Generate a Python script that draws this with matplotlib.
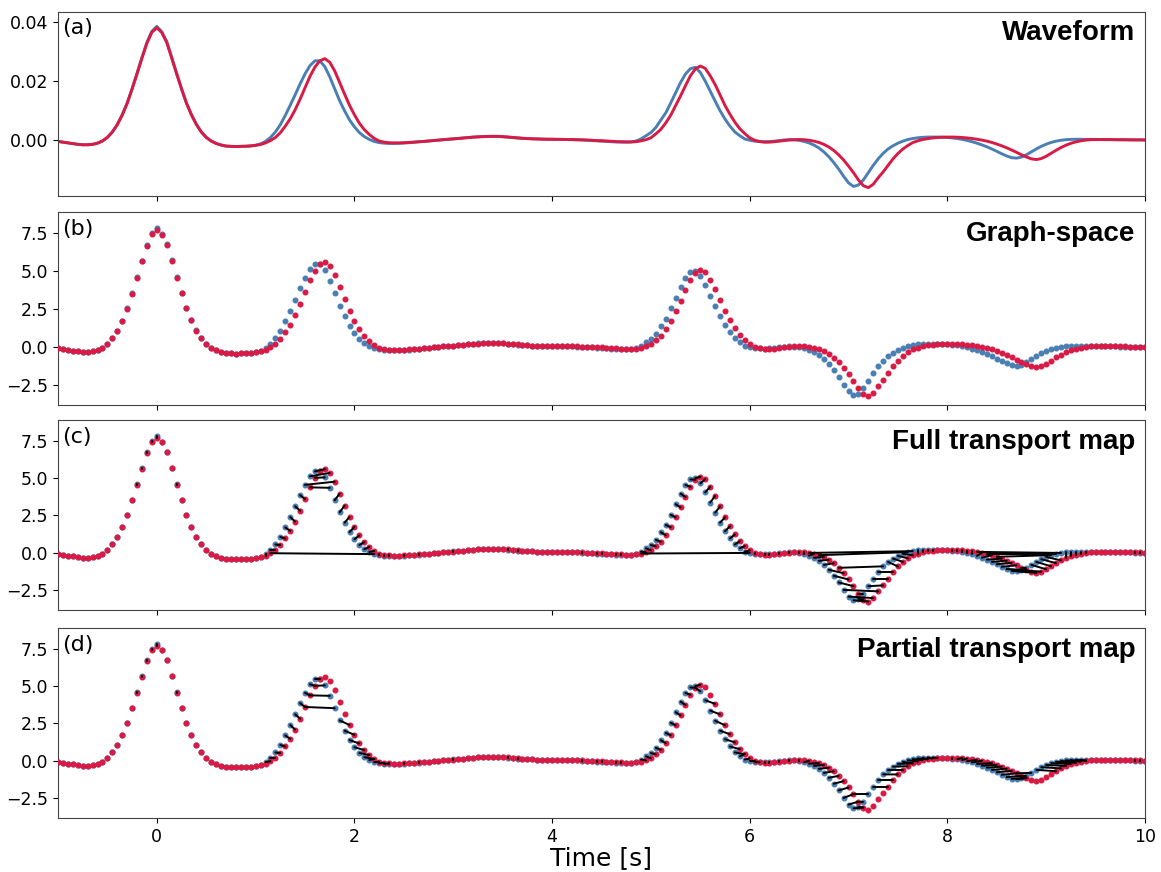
import numpy as np
import matplotlib
matplotlib.use("Agg")
import matplotlib.pyplot as plt

# -------------------------
# Data (graph-space units, sampled every 0.05 s from -1 to 10 s)
# -------------------------

t_start = -1.0
t_step = 0.05

blue_vals = [
    -0.10, -0.15, -0.20, -0.25, -0.30, -0.33, -0.33, -0.30, -0.22, -0.07,
    0.18, 0.55, 1.06, 1.73, 2.54, 3.54, 4.60, 5.69, 6.73, 7.48,
    7.82, 7.45, 6.78, 5.71, 4.60, 3.54, 2.54, 1.75, 1.08, 0.55,
    0.18, -0.07, -0.24, -0.35, -0.42, -0.44, -0.45, -0.44, -0.43, -0.41,
    -0.36, -0.27, -0.10, 0.17, 0.55, 1.05, 1.69, 2.39, 3.11, 3.86,
    4.55, 5.12, 5.45, 5.45, 5.05, 4.35, 3.52, 2.70, 2.01, 1.38,
    0.90, 0.51, 0.23, 0.04, -0.10, -0.18, -0.22, -0.24, -0.24, -0.23,
    -0.21, -0.19, -0.16, -0.13, -0.10, -0.07, -0.04, -0.01, 0.02, 0.05,
    0.08, 0.11, 0.14, 0.17, 0.20, 0.22, 0.24, 0.25, 0.25, 0.24,
    0.22, 0.19, 0.16, 0.13, 0.11, 0.09, 0.08, 0.07, 0.06, 0.05,
    0.05, 0.04, 0.04, 0.03, 0.02, 0.01, 0.00, -0.02, -0.04, -0.06,
    -0.08, -0.10, -0.12, -0.14, -0.15, -0.15, -0.13, -0.07, 0.07, 0.29,
    0.51, 0.86, 1.37, 1.86, 2.54, 3.25, 3.96, 4.54, 4.91, 5.00,
    4.65, 4.05, 3.36, 2.68, 2.01, 1.44, 0.95, 0.55, 0.29, 0.07,
    -0.02, -0.08, -0.11, -0.12, -0.11, -0.08, -0.04, 0.00, 0.02, 0.01,
    -0.03, -0.10, -0.20, -0.35, -0.55, -0.82, -1.15, -1.55, -2.00, -2.50,
    -2.95, -3.20, -3.10, -2.75, -2.25, -1.75, -1.30, -0.92, -0.62, -0.40,
    -0.22, -0.08, 0.03, 0.10, 0.15, 0.18, 0.20, 0.20, 0.20, 0.19,
    0.17, 0.14, 0.10, 0.04, -0.03, -0.12, -0.22, -0.34, -0.47, -0.62,
    -0.78, -0.95, -1.10, -1.22, -1.25, -1.18, -1.02, -0.82, -0.62, -0.44,
    -0.29, -0.17, -0.08, -0.02, 0.02, 0.04, 0.05, 0.05, 0.04, 0.04,
    0.03, 0.03, 0.02, 0.02, 0.02, 0.01, 0.01, 0.01, 0.00, 0.00,
    0.00,
]

red_vals = [
    -0.10, -0.15, -0.20, -0.25, -0.30, -0.33, -0.33, -0.30, -0.22, -0.07,
    0.18, 0.55, 1.05, 1.72, 2.52, 3.51, 4.56, 5.64, 6.66, 7.42,
    7.72, 7.40, 6.72, 5.66, 4.57, 3.52, 2.53, 1.74, 1.07, 0.55,
    0.18, -0.07, -0.24, -0.35, -0.42, -0.44, -0.45, -0.44, -0.43, -0.41,
    -0.37, -0.31, -0.20, -0.04, 0.17, 0.50, 0.95, 1.46, 2.08, 2.81,
    3.60, 4.38, 5.02, 5.45, 5.60, 5.35, 4.76, 3.96, 3.16, 2.39,
    1.73, 1.15, 0.71, 0.38, 0.11, -0.07, -0.15, -0.19, -0.20, -0.20,
    -0.19, -0.17, -0.15, -0.12, -0.10, -0.07, -0.04, -0.01, 0.02, 0.05,
    0.07, 0.10, 0.13, 0.16, 0.19, 0.21, 0.23, 0.24, 0.25, 0.25,
    0.23, 0.21, 0.18, 0.15, 0.12, 0.10, 0.08, 0.07, 0.06, 0.05,
    0.05, 0.04, 0.04, 0.03, 0.03, 0.02, 0.01, 0.00, -0.02, -0.04,
    -0.05, -0.07, -0.09, -0.11, -0.12, -0.13, -0.14, -0.12, -0.06, 0.02,
    0.15, 0.42, 0.73, 1.17, 1.70, 2.37, 3.03, 3.74, 4.42, 4.89,
    5.09, 4.93, 4.42, 3.81, 3.10, 2.37, 1.77, 1.22, 0.77, 0.44,
    0.15, -0.02, -0.11, -0.15, -0.15, -0.12, -0.08, -0.04, 0.00, 0.02,
    0.03, 0.02, -0.02, -0.08, -0.17, -0.30, -0.48, -0.72, -1.02, -1.38,
    -1.80, -2.25, -2.75, -3.15, -3.28, -3.05, -2.60, -2.20, -1.75, -1.30,
    -0.93, -0.62, -0.38, -0.18, -0.06, 0.03, 0.09, 0.14, 0.17, 0.19,
    0.20, 0.20, 0.19, 0.17, 0.14, 0.10, 0.05, -0.01, -0.08, -0.17,
    -0.28, -0.40, -0.54, -0.69, -0.85, -1.02, -1.17, -1.30, -1.35, -1.28,
    -1.12, -0.92, -0.71, -0.52, -0.36, -0.23, -0.13, -0.06, -0.01, 0.02,
    0.03, 0.03, 0.03, 0.03, 0.02, 0.02, 0.02, 0.01, 0.01, 0.01,
    0.00,
]

# graph-space amplitude -> raw waveform amplitude
wave_scale = 1.0 / 203.0

panel_titles = ["Waveform", "Graph-space", "Full transport map", "Partial transport map"]
panel_labels = ["(a)", "(b)", "(c)", "(d)"]

blue_c = "#4a7fb3"
red_c = "#d91a45"

blue = np.array(blue_vals)
red = np.array(red_vals)
assert len(blue) == len(red)
t = t_start + t_step * np.arange(len(blue))


def hungarian(cost):
    n = cost.shape[0]
    u = np.zeros(n + 1)
    v = np.zeros(n + 1)
    p = np.zeros(n + 1, dtype=int)
    way = np.zeros(n + 1, dtype=int)
    for i in range(1, n + 1):
        p[0] = i
        j0 = 0
        minv = np.full(n + 1, np.inf)
        used = np.zeros(n + 1, dtype=bool)
        while True:
            used[j0] = True
            i0 = p[j0]
            cur = cost[i0 - 1, :] - u[i0] - v[1:]
            free = ~used[1:]
            upd = free & (cur < minv[1:])
            minv[1:][upd] = cur[upd]
            way[1:][upd] = j0
            mv = np.where(free, minv[1:], np.inf)
            j1 = int(np.argmin(mv)) + 1
            delta = mv[j1 - 1]
            u[p[used]] += delta
            v[used] -= delta
            minv[~used] -= delta
            j0 = j1
            if p[j0] == 0:
                break
        while True:
            j1 = way[j0]
            p[j0] = p[j1]
            j0 = j1
            if j0 == 0:
                break
    match = np.zeros(n, dtype=int)
    for j in range(1, n + 1):
        match[p[j] - 1] = j - 1
    return match


# full map: assignment in graph space, partial map: nearest partner
dist = np.sqrt((t[:, None] - t[None, :]) ** 2 + (blue[:, None] - red[None, :]) ** 2)
full_match = hungarian(dist)
partial_match = np.argmin(dist, axis=1)

fig = plt.figure(figsize=(11.61, 8.72), dpi=100)
W, H = 1161.0, 872.0
x0, x1 = 58, 1145
boxes = [(12, 196), (212, 405), (420, 610), (628, 818)]
axes = []
for top, bot in boxes:
    ax = fig.add_axes([x0 / W, 1 - bot / H, (x1 - x0) / W, (bot - top) / H])
    axes.append(ax)

# panel a
ax = axes[0]
ax.plot(t, blue * wave_scale, color=blue_c, lw=2.1)
ax.plot(t, red * wave_scale, color=red_c, lw=2.1)
ax.set_ylim(-0.019, 0.0434)
ax.set_yticks([0.0, 0.02, 0.04])

# panel b
ax = axes[1]
ax.scatter(t, blue, s=11, color=blue_c, zorder=2)
ax.scatter(t, red, s=11, color=red_c, zorder=3)

# panel c and d
for ax, match in [(axes[2], full_match), (axes[3], partial_match)]:
    ax.scatter(t, blue, s=11, color=blue_c, zorder=2)
    ax.scatter(t, red, s=11, color=red_c, zorder=3)
    for i, j in enumerate(match):
        ax.plot([t[i], t[j]], [blue[i], red[j]], color="black", lw=1.4,
                solid_capstyle="round", zorder=4)

for ax in axes[1:]:
    ax.set_ylim(-3.85, 8.9)
    ax.set_yticks([-2.5, 0.0, 2.5, 5.0, 7.5])

for k, ax in enumerate(axes):
    ax.set_xlim(-1, 10)
    ax.set_xticks([0, 2, 4, 6, 8, 10])
    if k < 3:
        ax.tick_params(labelbottom=False)
    ax.text(0.991, 0.955, panel_titles[k], transform=ax.transAxes, ha="right", va="top",
            fontsize=20, fontweight="bold", family="Liberation Sans")
    ax.text(0.004, 0.965, panel_labels[k], transform=ax.transAxes, ha="left", va="top",
            fontsize=16)
    ax.tick_params(labelsize=12.5)
    for s in ax.spines.values():
        s.set_color("#444444")

axes[-1].set_xlabel("Time [s]", fontsize=18, labelpad=0)

fig.savefig("out.png", dpi=100)
